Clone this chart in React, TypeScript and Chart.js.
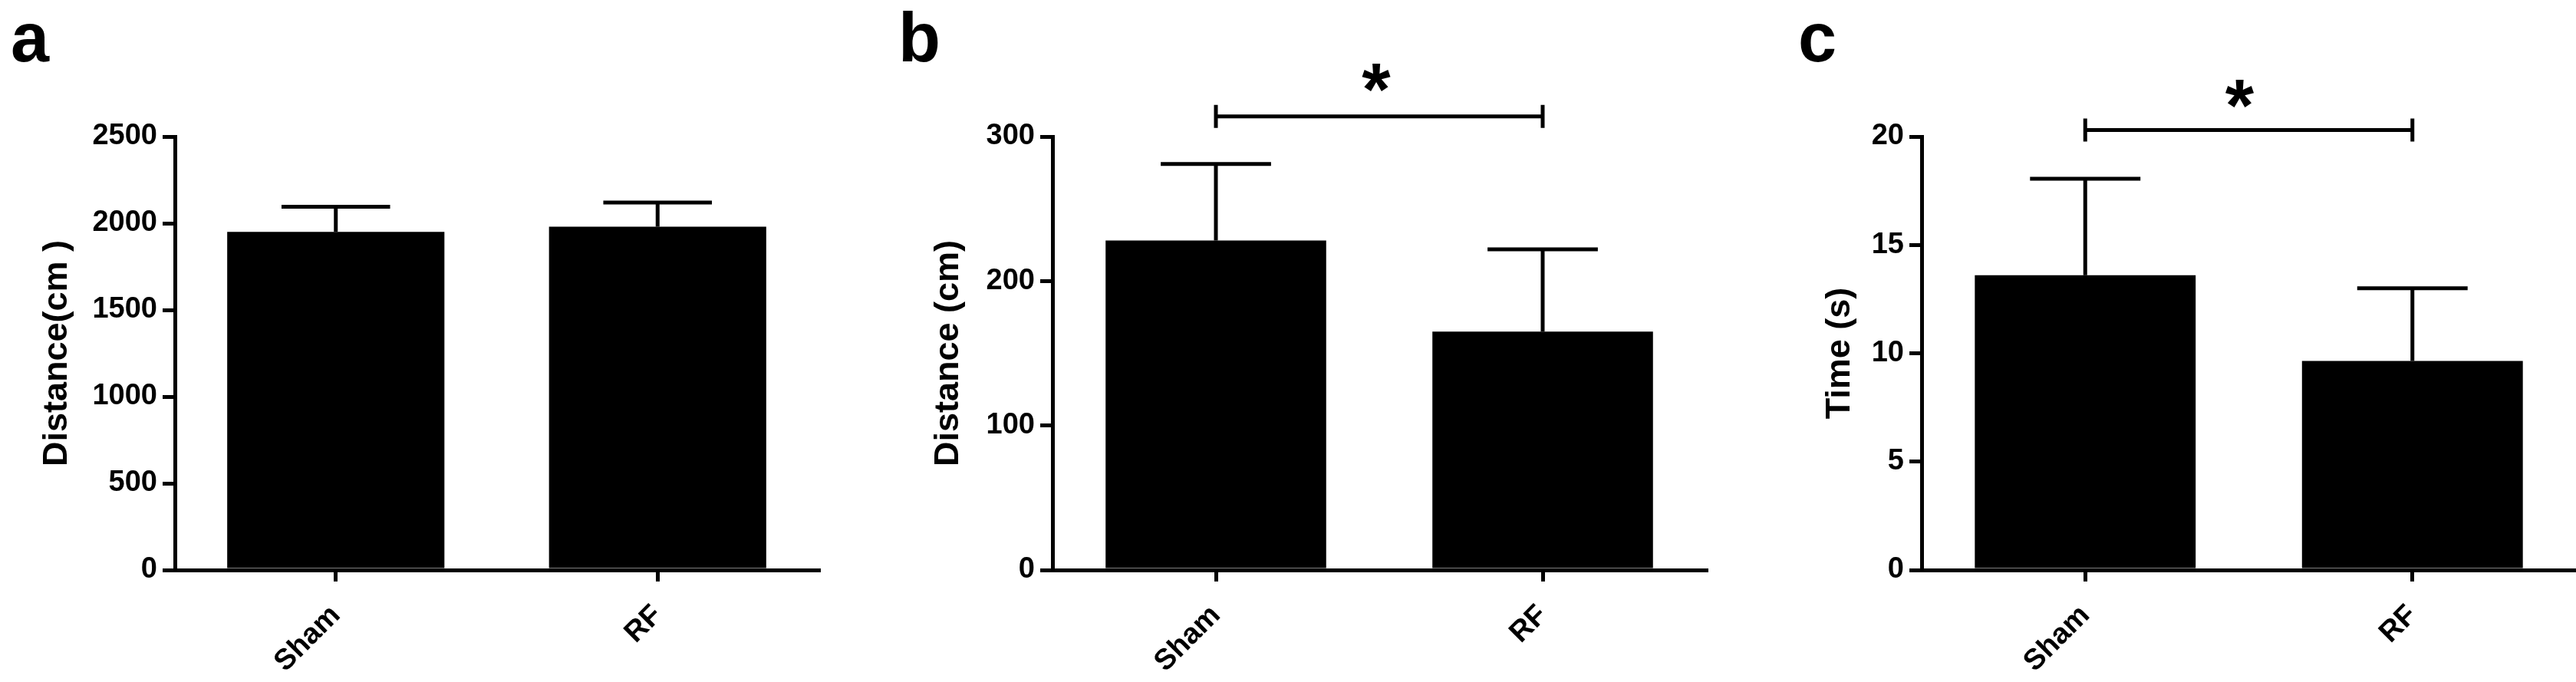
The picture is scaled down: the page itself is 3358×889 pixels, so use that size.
import React, { useEffect, useRef } from 'react';
import { Chart, registerables } from 'chart.js';

Chart.register(...registerables);

const groups = ['Sham', 'RF'];

// a: total distance travelled
const totalDistance = [1950, 1980];
const totalDistanceErr = [145, 140];

// b: distance
const distanceB = [228, 165];
const distanceBErr = [53, 57];

// c: time
const timeC = [13.6, 9.65];
const timeCErr = [4.45, 3.35];

// significance brackets (value of bracket line, value of star centre)
const sigB = [314, 341];
const sigC = [20.3, 22.0];

const FONT = "'Liberation Sans', Arial, Helvetica, sans-serif";

const makePlugins = (letter, letterX, values, errors, sig, starShift) => [
    {
        id: 'errorBars',
        afterDatasetsDraw(chart) {
            const { ctx } = chart;
            const y = chart.scales.y;
            const meta = chart.getDatasetMeta(0);
            ctx.save();
            ctx.strokeStyle = '#000';
            ctx.lineWidth = 5;
            meta.data.forEach((bar, i) => {
                const top = y.getPixelForValue(values[i] + errors[i]);
                const half = bar.width / 4;
                ctx.beginPath();
                ctx.moveTo(bar.x, bar.y);
                ctx.lineTo(bar.x, top);
                ctx.moveTo(bar.x - half, top);
                ctx.lineTo(bar.x + half, top);
                ctx.stroke();
            });
            ctx.restore();
        }
    },
    {
        id: 'annotations',
        afterDraw(chart) {
            const { ctx } = chart;
            ctx.save();
            ctx.fillStyle = '#000';
            ctx.font = `bold 90px ${FONT}`;
            ctx.textAlign = 'left';
            ctx.textBaseline = 'alphabetic';
            ctx.fillText(letter, letterX, 80);
            if (sig) {
                const y = chart.scales.y;
                const x = chart.scales.x;
                const x0 = x.getPixelForValue(0);
                const x1 = x.getPixelForValue(1);
                const yb = y.getPixelForValue(sig[0]);
                ctx.strokeStyle = '#000';
                ctx.lineWidth = 5;
                ctx.beginPath();
                ctx.moveTo(x0, yb);
                ctx.lineTo(x1, yb);
                ctx.moveTo(x0, yb - 15);
                ctx.lineTo(x0, yb + 15);
                ctx.moveTo(x1, yb - 15);
                ctx.lineTo(x1, yb + 15);
                ctx.stroke();
                ctx.font = `bold 96px ${FONT}`;
                ctx.textAlign = 'center';
                const m = ctx.measureText('*');
                const cy = y.getPixelForValue(sig[1]);
                const base = cy + (m.actualBoundingBoxAscent - m.actualBoundingBoxDescent) / 2;
                ctx.fillText('*', (x0 + x1) / 2 + starShift, base);
            }
            ctx.restore();
        }
    }
];

const Panel = ({ left, width, letter, letterX, values, errors, sig, starShift, max, step, title, titlePad, axisWidth, padRight }) => {
    const ref = useRef(null);

    useEffect(() => {
        const tickFont = { family: FONT, size: 38, weight: 'bold' };
        const chart = new Chart(ref.current, {
            type: 'bar',
            data: {
                labels: groups,
                datasets: [{
                    data: values,
                    backgroundColor: '#000',
                    borderWidth: 0,
                    categoryPercentage: 1,
                    barPercentage: 0.675
                }]
            },
            options: {
                responsive: false,
                animation: false,
                layout: { padding: { left: 0, right: padRight, top: 178, bottom: 0 } },
                plugins: {
                    legend: { display: false },
                    tooltip: { enabled: false }
                },
                scales: {
                    x: {
                        offset: true,
                        grid: {
                            drawOnChartArea: false,
                            offset: false,
                            tickLength: 15,
                            tickWidth: 5,
                            lineWidth: 5,
                            tickColor: '#000'
                        },
                        border: { color: '#000', width: 5 },
                        ticks: { color: '#000', font: tickFont, maxRotation: 45, minRotation: 45, padding: 22 },
                        afterFit: (s) => { s.height = 146; }
                    },
                    y: {
                        min: 0,
                        max: max,
                        grid: {
                            drawOnChartArea: false,
                            tickLength: 16,
                            tickWidth: 5,
                            lineWidth: 5,
                            tickColor: '#000'
                        },
                        border: { color: '#000', width: 5 },
                        ticks: {
                            stepSize: step,
                            color: '#000',
                            font: tickFont,
                            padding: 7,
                            callback: (v) => String(v)
                        },
                        title: {
                            display: true,
                            text: title,
                            color: '#000',
                            font: { family: FONT, size: 45, weight: 'bold' },
                            padding: { top: titlePad, bottom: 0 }
                        },
                        afterFit: (s) => { s.width = axisWidth; }
                    }
                }
            },
            plugins: makePlugins(letter, letterX, values, errors, sig, starShift)
        });

        return () => {
            chart.destroy();
        };
    }, []);

    return (
        <div style={{ position: 'absolute', left, top: 0, width, height: 889 }}>
            <canvas ref={ref} width={width} height={889} />
        </div>
    );
};

export default function App() {
    return (
        <div style={{ position: 'absolute', left: 0, top: 0, width: 3358, height: 889, background: '#fff', overflow: 'hidden' }}>
            <Panel left={0} width={1100} letter="a" letterX={14} values={totalDistance} errors={totalDistanceErr}
                sig={null} starShift={0} max={2500} step={500} title="Distance(cm )" titlePad={48} axisWidth={228} padRight={33} />
            <Panel left={1100} width={1130} letter="b" letterX={71} values={distanceB} errors={distanceBErr}
                sig={sigB} starShift={-4} max={300} step={100} title="Distance (cm)" titlePad={110} axisWidth={272} padRight={6} />
            <Panel left={2230} width={1128} letter="c" letterX={114} values={timeC} errors={timeCErr}
                sig={sigC} starShift={-12} max={20} step={5} title="Time (s)" titlePad={142} axisWidth={275} padRight={0} />
        </div>
    );
}
